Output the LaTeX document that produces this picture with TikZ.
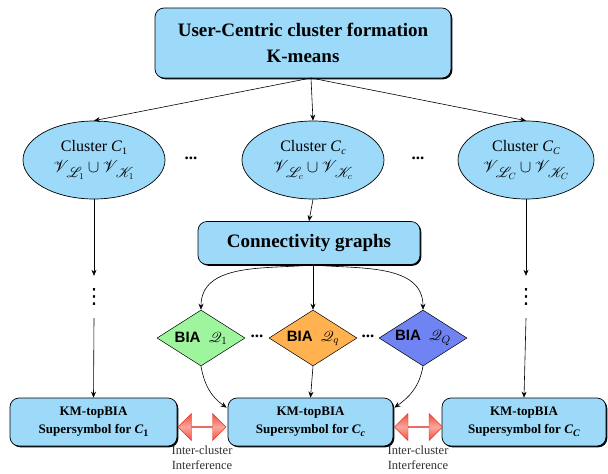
\documentclass[tikz,border=0pt]{standalone}
\usepackage{amsmath,amssymb,mathrsfs,bm}
\usepackage[no-math]{fontspec}
\setmainfont{Liberation Serif}
\newfontfamily\biafont{Liberation Sans}
\newfontfamily\dvfont{DejaVu Sans}
\usetikzlibrary{shapes.geometric,shapes.arrows,shadows,arrows.meta,calc}
\definecolor{boxblue}{HTML}{9DD9F8}
\definecolor{dgreen}{HTML}{9EF59E}
\definecolor{dorange}{HTML}{FFB24F}
\definecolor{dblue}{HTML}{6F84F2}
\definecolor{ired}{HTML}{F23A26}
\newcommand\CC[1]{\textit{C}\raisebox{-2.5pt}{\fontsize{10}{10}\selectfont #1}}
\newcommand\VV[2]{$\mathscr{V}_{\,\mathscr{#1}_{#2}}$}
\tikzset{
  x=1pt,y=1pt,
  sbox/.style={draw=black, line width=0.7pt, rounded corners=9pt, fill=boxblue, inner sep=0pt, align=center,
    drop shadow={shadow xshift=1.3pt, shadow yshift=-1.3pt, fill=black, opacity=1}},
  cell/.style={ellipse, draw=black, line width=0.7pt, fill=boxblue, inner sep=0pt, align=center,
    minimum width=142, minimum height=78, font=\fontsize{16}{22}\selectfont},
  bia/.style={diamond, draw=black, line width=0.5pt, inner sep=0pt, minimum width=88, minimum height=56,
    aspect=1.57, font=\fontsize{15}{16}\selectfont},
  arr/.style={-{Stealth[length=6pt,width=5pt]}, line width=0.6pt},
  iarr/.style={double arrow, double arrow head extend=8pt, minimum height=48, minimum width=27, inner sep=0pt,
    draw=ired!90!black, line width=0.4pt, top color=ired!90, bottom color=ired!90, middle color=ired!45!white, shading angle=0},
  ilab/.style={align=center, font=\fontsize{12.5}{15}\selectfont, text=black!80},
  hdots/.style={font=\bfseries\fontsize{17}{17}\selectfont},
  vdot/.style={inner sep=0pt, minimum height=42, font=\dvfont\fontsize{21}{21}\selectfont}
}
\begin{document}
\begin{tikzpicture}
\useasboundingbox (0,0) rectangle (608,-474);
\node[sbox, minimum width=296, minimum height=70, font=\bfseries\fontsize{19}{26}\selectfont] (top) at (303,-43)
  {User-Centric cluster formation\\K-means};
\coordinate (tp) at (311,-78);
\node[cell] (e1) at (94,-160) {Cluster \CC{1}\\[-1pt]{\fontsize{19}{19}\selectfont\VV{L}{1}\,$\cup$\,\VV{K}{1}}};
\node[cell] (ec) at (313,-160) {Cluster \CC{\textit{c}}\\[-1pt]{\fontsize{19}{19}\selectfont\VV{L}{c}\,$\cup$\,\VV{K}{c}}};
\node[cell, minimum width=136] (eC) at (526,-160) {Cluster \CC{\textit{C}}\\[-1pt]{\fontsize{19}{19}\selectfont\VV{L}{C}\,$\cup$\,\VV{K}{C}}};
\node[hdots] (h1) at (191,-158) {...};
\node[hdots] (h2) at (418,-158) {...};
\draw[arr] (tp) -- (e1.north);
\draw[arr] (tp) -- (ec.north);
\draw[arr] (tp) -- (eC.north);

\node[sbox, minimum width=222, minimum height=43, font=\bfseries\fontsize{19}{22}\selectfont] (cg) at (309,-243) {Connectivity graphs};
\draw[arr] (ec.south) -- (cg.north);
\coordinate (cp) at (313,-265);

\node[bia, fill=dgreen] (d1) at (201,-338) {{\biafont\bfseries BIA}\hspace{8pt}$\mathscr{Q}_1$};
\node[bia, fill=dorange] (d2) at (313,-338) {{\biafont\bfseries BIA}\hspace{8pt}$\mathscr{Q}_q$};
\node[bia, fill=dblue] (d3) at (423,-338) {{\biafont\bfseries BIA}\hspace{8pt}$\mathscr{Q}_Q$};
\node[hdots] (h3) at (257,-336) {...};
\node[hdots] (h4) at (368,-336) {...};
\draw[arr] (cp) to[out=185, in=90] (d1.north);
\draw[arr] (cp) -- (d2.north);
\draw[arr] (cp) to[out=-5, in=90] (d3.north);

\node[sbox, minimum width=167, minimum height=48, font=\bfseries\fontsize{13}{18}\selectfont] (b1) at (93.5,-422)
  {KM-topBIA\\Supersymbol for \CC{1}};
\node[sbox, minimum width=165, minimum height=48, font=\bfseries\fontsize{13}{18}\selectfont] (b2) at (310.5,-422)
  {KM-topBIA\\Supersymbol for \CC{\textit{c}}};
\node[sbox, minimum width=164, minimum height=48, font=\bfseries\fontsize{13}{18}\selectfont] (b3) at (524,-422)
  {KM-topBIA\\Supersymbol for \CC{\textit{C}}};

\node[vdot] (v1) at (94,-297) {⋮};
\node[vdot] (v3) at (526,-297) {⋮};
\draw[arr] (e1.south) -- (v1.north);
\draw[arr] (v1.south) -- (b1.north);
\draw[arr] (eC.south) -- (v3.north);
\draw[arr] (v3.south) -- (b3.north);

\draw[arr] (d2.south) -- (b2.north);
\draw[arr] (d1.south) to[out=-80, in=145] ($(b2.north west)+(-1,-10)$);
\draw[arr] (d3.south) to[out=-100, in=35] ($(b2.north east)+(1,-10)$);

\node[iarr] (ia1) at (202,-427) {};
\node[iarr] (ia2) at (418.5,-427) {};
\node[ilab] (l1) at (202,-458) {Inter-cluster\\Interference};
\node[ilab] (l2) at (418,-458) {Inter-cluster\\Interference};
\end{tikzpicture}
\end{document}
